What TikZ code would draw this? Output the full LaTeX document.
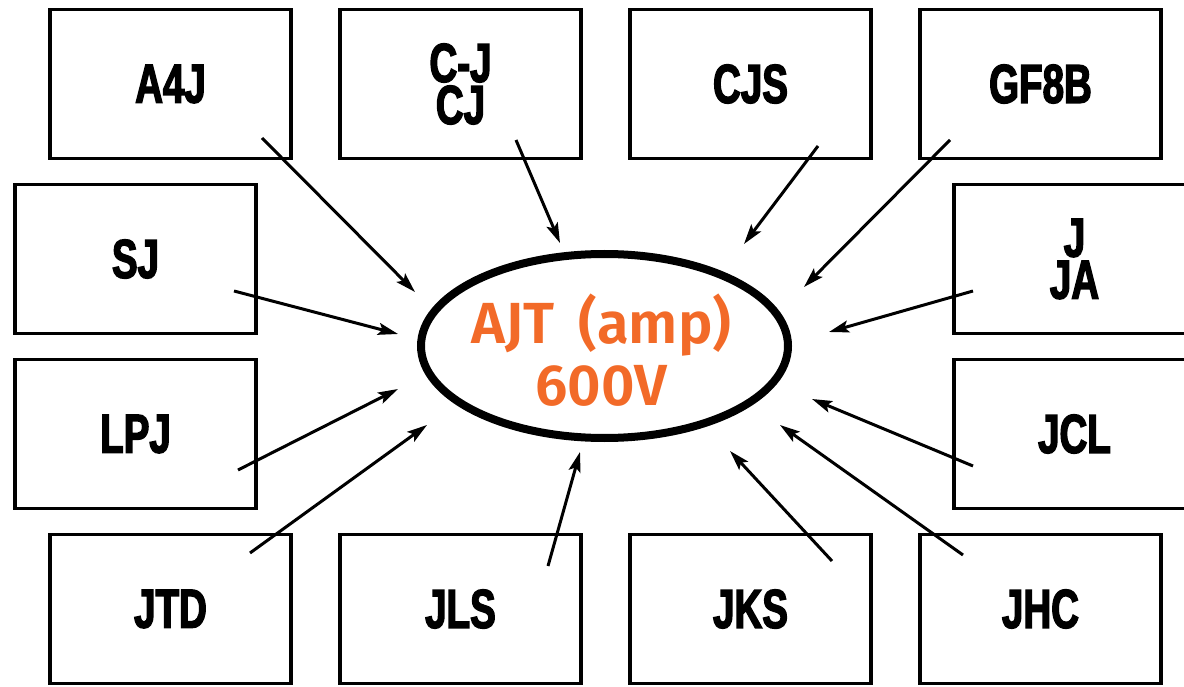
\documentclass[tikz,border=0pt]{standalone}
\usepackage{fontspec}
\setmainfont{Liberation Sans}[FakeStretch=0.7,BoldFeatures={FakeBold=2.5}]
\newfontfamily\ampfont{Fira Sans SemiBold}
\usetikzlibrary{arrows.meta,positioning,shapes.geometric}
\definecolor{amporange}{HTML}{F26A28}

\tikzset{
  part/.style={draw,line width=3.5pt,minimum width=241pt,minimum height=149pt,
    align=center,font=\bfseries\fontsize{55}{42}\selectfont},
  feed/.style={line width=3pt,-{Stealth[length=20pt,width=12pt,inset=4pt]}}
}

\begin{document}
\begin{tikzpicture}[x=1pt,y=-1pt,on grid,node distance=175pt and 290pt]
  \useasboundingbox (0,0) rectangle (1184,687);
  \clip (0,0) rectangle (1184,687);
  % top row
  \node[part] (a4j)                 at (170.5,84)  {A4J};
  \node[part] (cj)   [right=of a4j]   {C-J\\CJ};
  \node[part] (cjs)  [right=of cj]    {CJS};
  \node[part] (gf8b) [right=of cjs]   {GF8B};
  % side rows
  \node[part] (sj)   [below left=175pt and 35pt of a4j]  {SJ};
  \node[part] (lpj)  [below=of sj]    {LPJ};
  \node[part] (jja)  [below right=175pt and 34pt of gf8b] {J\\JA};
  \node[part] (jcl)  [below=of jja]   {JCL};
  % bottom row
  \node[part] (jtd)  [below=525pt of a4j] {JTD};
  \node[part] (jls)  [right=of jtd]   {JLS};
  \node[part] (jks)  [right=of jls]   {JKS};
  \node[part] (jhc)  [right=of jks]   {JHC};
  % centre
  \node[ellipse,draw,line width=8pt,minimum width=367pt,minimum height=184pt]
    (ajt) at (604.5,346) {};
  \node[text=amporange,align=center,font=\ampfont\fontsize{58}{62}\selectfont]
    (ajt-label) at (601.5,350) {AJT\ \,(amp)\\600V};

  % arrow ends
  \coordinate (a4j-s)  at (262,138);  \coordinate (a4j-e)  at (415,292);
  \coordinate (cj-s)   at (516,140);  \coordinate (cj-e)   at (560,243);
  \coordinate (cjs-s)  at (818,146);  \coordinate (cjs-e)  at (744,244);
  \coordinate (gf8b-s) at (950,140);  \coordinate (gf8b-e) at (804,287);
  \coordinate (sj-s)   at (234,291);  \coordinate (sj-e)   at (398,334);
  \coordinate (jja-s)  at (973,291);  \coordinate (jja-e)  at (829,332);
  \coordinate (lpj-s)  at (238,470);  \coordinate (lpj-e)  at (398,389);
  \coordinate (jcl-s)  at (973,466);  \coordinate (jcl-e)  at (812,399);
  \coordinate (jtd-s)  at (250,553);  \coordinate (jtd-e)  at (427,425);
  \coordinate (jls-s)  at (548,566);  \coordinate (jls-e)  at (580,452);
  \coordinate (jks-s)  at (832,561);  \coordinate (jks-e)  at (730,451);
  \coordinate (jhc-s)  at (963,555);  \coordinate (jhc-e)  at (780,425);

  \foreach \p in {a4j,cj,cjs,gf8b,sj,jja,lpj,jcl,jtd,jls,jks,jhc}
    \draw[feed] (\p-s) -- (\p-e);
\end{tikzpicture}
\end{document}
